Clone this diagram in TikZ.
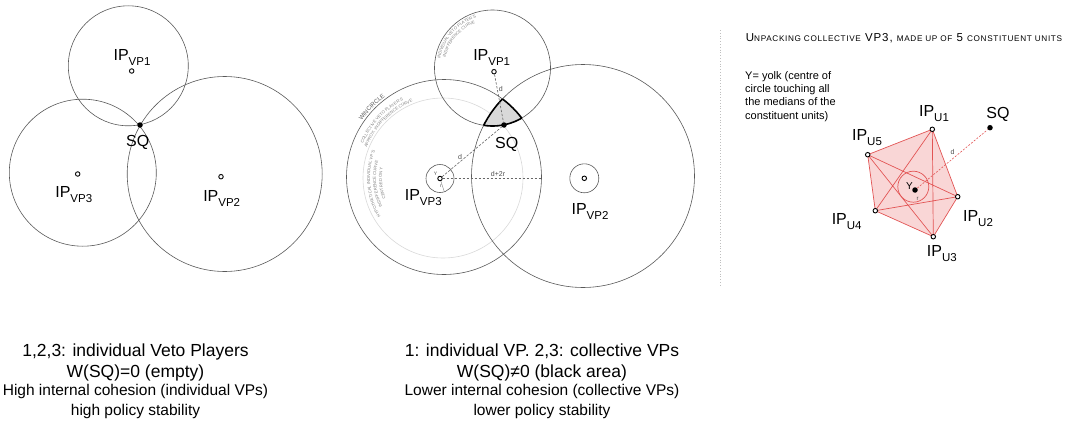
\documentclass[tikz,border=0pt]{standalone}
\usepackage{fontspec}
\setmainfont{Liberation Sans}
\usetikzlibrary{decorations.text}

\definecolor{unitred}{RGB}{226,84,84}
\definecolor{unitfill}{RGB}{249,214,214}

\newcommand{\ipl}[1]{IP\raisebox{-5pt}{\fontsize{11.5}{12}\selectfont #1}}
\newcommand{\curvefont}{\fontsize{4.2}{5}\selectfont}
\newcommand{\smc}[1]{{\fontsize{8.2}{10}\selectfont #1}}

\begin{document}
\begin{tikzpicture}[x=1pt, y=-1pt,
    circ/.style={draw=black!65, line width=0.6pt},
    faintcirc/.style={draw=black!15, line width=0.6pt},
    ipdot/.style={circle, draw=black, fill=white, line width=0.9pt, inner sep=0pt, minimum size=4.5pt},
    sqdot/.style={circle, fill=black, inner sep=0pt, minimum size=5.5pt},
    iplabel/.style={font=\fontsize{16}{18}\selectfont, anchor=base, inner sep=0pt},
    measure/.style={draw=black!60, dash pattern=on 2.5pt off 1.5pt, line width=0.6pt},
    tinylabel/.style={font=\fontsize{7}{8}\selectfont, text=black!70, inner sep=1.5pt},
    curvetext/.style={decorate, decoration={text along path, text align=center,
        text color=black!50, text={|\curvefont|#1}}},
    caption/.style={font=\fontsize{17.5}{20}\selectfont, anchor=base},
    subcaption/.style={font=\fontsize{15.5}{18}\selectfont, anchor=base},
    unitline/.style={draw=unitred, line width=0.7pt}
]
\useasboundingbox (0,0) rectangle (1068,423);

% === Left panel: individual veto players ===
\coordinate (c1) at (128.3,65.8);
\coordinate (c2) at (224.7,174);
\coordinate (c3) at (82.8,172.7);
\draw[circ] (c1) circle[radius=60];
\draw[circ] (c2) circle[radius=97.5];
\draw[circ] (c3) circle[radius=73.5];

\node[ipdot] (vp1) at (131.7,71) {};
\node[ipdot] (vp2) at (221,176.7) {};
\node[ipdot] (vp3) at (77.7,174) {};
\node[sqdot] (sq) at (140,125) {};

\node[iplabel] (vp1lab) at (132,60) {\ipl{VP1}};
\node[iplabel] (vp2lab) at (221.7,201.7) {\ipl{VP2}};
\node[iplabel] (vp3lab) at (73.8,197.3) {\ipl{VP3}};
\node[iplabel] (sqlab) at (137.8,146.7) {SQ};

% === Middle panel: collective veto players ===
\coordinate (m1) at (492.5,68);
\coordinate (m2) at (583,176);
\coordinate (mw) at (444,177);
\coordinate (mg) at (443,178);

\draw[faintcirc] (mg) circle[radius=80];
\draw[circ] (m1) circle[radius=58];
\draw[circ] (m2) circle[radius=111.5];
\draw[circ] (mw) circle[radius=97.5];

% winset of SQ
\begin{scope}
  \clip (m1) circle[radius=58];
  \clip (mw) circle[radius=97.5];
  \fill[black!15] (m2) circle[radius=111.5];
\end{scope}
\begin{scope}
  \clip (mw) circle[radius=97.5];
  \clip (m2) circle[radius=111.5];
  \draw[line width=1.6pt] (m1) circle[radius=58];
\end{scope}
\begin{scope}
  \clip (m1) circle[radius=58];
  \clip (m2) circle[radius=111.5];
  \draw[line width=1.6pt] (mw) circle[radius=97.5];
\end{scope}
\begin{scope}
  \clip (m1) circle[radius=58];
  \clip (mw) circle[radius=97.5];
  \draw[line width=1.6pt] (m2) circle[radius=111.5];
\end{scope}

\node[ipdot] (vp1m) at (494,71.7) {};
\node[ipdot] (vp2m) at (584.3,178.3) {};
\node[ipdot] (vp3m) at (440,178.5) {};
\node[sqdot] (sqm) at (504,125) {};
\draw[circ] (vp3m) circle[radius=14];
\draw[circ] (vp2m) circle[radius=14.5];
\coordinate (winedge) at (541.5,178.5);

\draw[measure] (vp1m) -- (sqm) node[tinylabel, pos=0.3, right] {d};
\draw[measure] (vp3m) -- (sqm) node[tinylabel, pos=0.3, above] {d};
\draw[measure] (vp3m) -- (winedge) node[tinylabel, pos=0.56, above] {d+2r};
\draw[black!50, line width=0.4pt] (vp3m) -- ++(72:13.5);
\node[font=\fontsize{5}{5}\selectfont, text=black!70, inner sep=0pt] (ym) at (435.5,173.5) {Y};
\node[font=\fontsize{5}{5}\selectfont, text=black!70, inner sep=0pt] (rm) at (441,186.5) {r};

\node[iplabel] (vp1mlab) at (491.7,60) {\ipl{VP1}};
\node[iplabel] (vp2mlab) at (590,214) {\ipl{VP2}};
\node[iplabel] (vp3mlab) at (423.3,200) {\ipl{VP3}};
\node[iplabel] (sqmlab) at (506.7,148) {SQ};

% curved labels
\path[curvetext={INDIVIDUAL VETO PLAYER'S}] (m1) ++(-182:53) arc[start angle=-182, end angle=-96, radius=53];
\path[curvetext={INDIFFERENCE CURVE}] (m1) ++(-182:48) arc[start angle=-182, end angle=-96, radius=48];
\path[decorate, decoration={text along path, text align=center, text color=black!65,
    text={|\fontsize{6}{7}\selectfont|WINCIRCLE}}]
    (mw) ++(-153:99.5) arc[start angle=-153, end angle=-119, radius=99.5];
\path[curvetext={COLLECTIVE VETO PLAYER'S}] (mg) ++(-162:87) arc[start angle=-162, end angle=-112, radius=87];
\path[curvetext={APPROX. INDIFFERENCE CURVE}] (mg) ++(-165:82) arc[start angle=-165, end angle=-105, radius=82];
\path[curvetext={HYPOTHETICAL INDIVIDUAL VP'S}] (mg) ++(-217:73) arc[start angle=-217, end angle=-153, radius=73];
\path[curvetext={INDIFFERENCE CURVE}] (mg) ++(-217:67) arc[start angle=-217, end angle=-153, radius=67];
\path[curvetext={CENTRED ON Y}] (mg) ++(-217:61) arc[start angle=-217, end angle=-153, radius=61];

% === Separator ===
\draw[black!25, dotted, line width=0.8pt] (720.7,30) -- (720.7,287);

% === Right panel: constituent units of VP3 ===
\node[anchor=base, inner sep=0pt, font=\fontsize{11.5}{13}\selectfont\addfontfeature{LetterSpace=8}] (head) at (904,41)
    {U\smc{NPACKING COLLECTIVE} VP3, \smc{MADE UP OF} 5 \smc{CONSTITUENT UNITS}};
\node[anchor=north west, align=left, inner sep=0pt, font=\fontsize{11}{13.3}\selectfont] (yolknote) at (745,71)
    {Y= yolk (centre of\\circle touching all\\the medians of the\\constituent units)};

\coordinate (u1) at (932.3,129.3);
\coordinate (u2) at (957.7,196.7);
\coordinate (u3) at (933.3,236.7);
\coordinate (u4) at (875.3,210.7);
\coordinate (u5) at (867.7,154.7);
\coordinate (yc) at (913.3,186.7);

\fill[unitfill] (u1) -- (u2) -- (u3) -- (u4) -- (u5) -- cycle;
\draw[unitline] (u1) -- (u2) -- (u3) -- (u4) -- (u5) -- cycle;
\draw[unitline] (u1) -- (u3) (u1) -- (u4) (u2) -- (u4) (u2) -- (u5) (u3) -- (u5);
\draw[unitline] (yc) circle[radius=15.5];

\node[ipdot] (u1dot) at (u1) {};
\node[ipdot] (u2dot) at (u2) {};
\node[ipdot] (u3dot) at (u3) {};
\node[ipdot] (u4dot) at (u4) {};
\node[ipdot] (u5dot) at (u5) {};
\node[sqdot] (ydot) at (915,190) {};
\node[sqdot] (sqr) at (990,127.7) {};

\draw[unitline, dash pattern=on 2pt off 1.5pt, line width=0.6pt] (ydot) -- (sqr)
    node[tinylabel, pos=0.5, above=2pt] {d};
\node[font=\fontsize{10}{10}\selectfont, inner sep=0pt] (yr) at (909.5,186.5) {Y};
\node[font=\fontsize{6}{6}\selectfont, text=black!70, inner sep=0pt] (rr) at (917.5,198.5) {r};

\node[iplabel] (u1lab) at (934,116.7) {\ipl{U1}};
\node[iplabel] (u2lab) at (978,221.7) {\ipl{U2}};
\node[iplabel] (u3lab) at (941.8,256.7) {\ipl{U3}};
\node[iplabel] (u4lab) at (846.7,224) {\ipl{U4}};
\node[iplabel] (u5lab) at (867,140) {\ipl{U5}};
\node[iplabel] (sqrlab) at (998,118.3) {SQ};

% === Captions ===
\node[caption] (capl1) at (135.5,356.7) {1,2,3: individual Veto Players};
\node[caption] (capl2) at (135.5,377.7) {W(SQ)=0 (empty)};
\node[subcaption] (capl3) at (135.5,395.7) {High internal cohesion (individual VPs)};
\node[subcaption] (capl4) at (135.5,415) {high policy stability};

\node[caption] (capm1) at (542,356.7) {1: individual VP. 2,3: collective VPs};
\node[caption] (capm2) at (542,377.7) {W(SQ)≠0 (black area)};
\node[subcaption] (capm3) at (542,395.7) {Lower internal cohesion (collective VPs)};
\node[subcaption] (capm4) at (542,415) {lower policy stability};

\end{tikzpicture}
\end{document}
